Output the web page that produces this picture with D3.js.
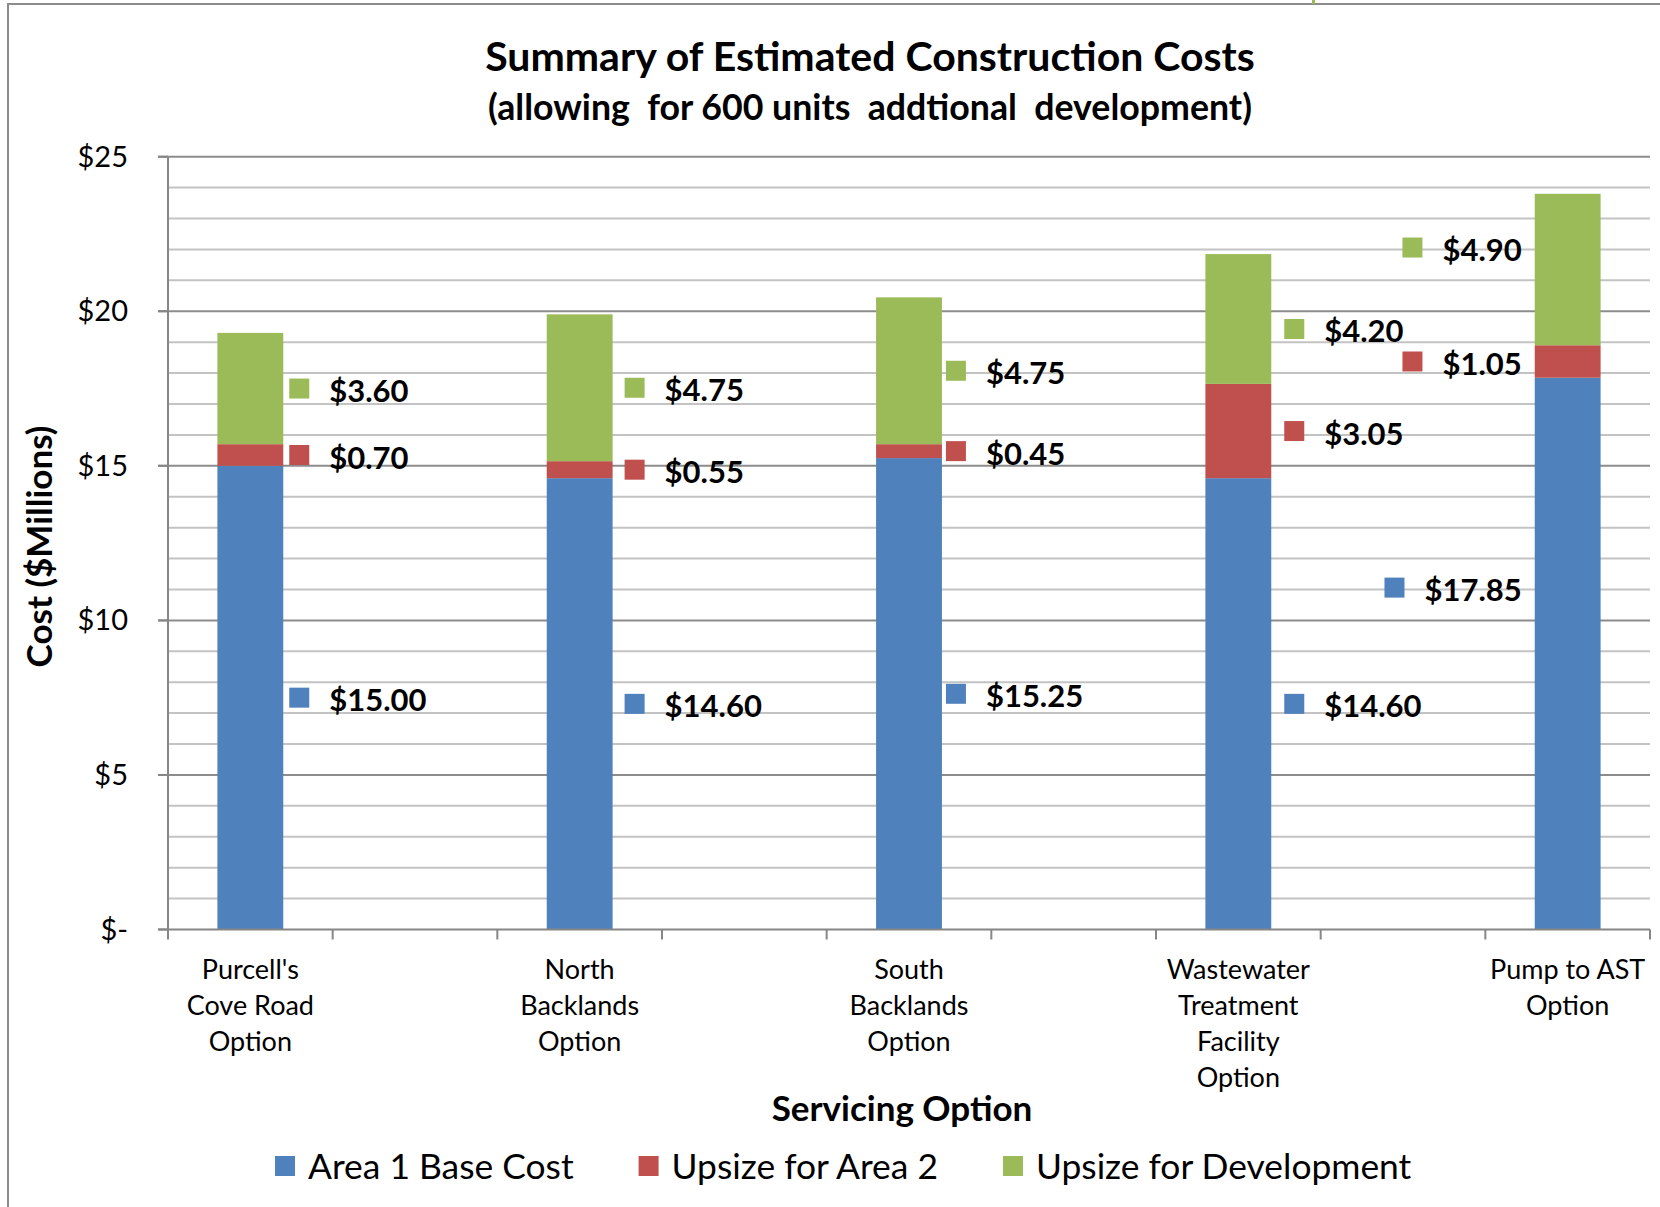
<!DOCTYPE html>
<html>
<head>
<meta charset="utf-8">
<script src="https://cdn.jsdelivr.net/npm/d3@7"></script>
<style>
  html, body { margin: 0; padding: 0; background: #ffffff; }
  svg { display: block; font-family: Lato, "Open Sans", sans-serif; }
  text { white-space: pre; }
</style>
</head>
<body>
<svg id="chart" width="1660" height="1207"></svg>
<script>
// Servicing options (category axis, one entry per line of the label)
const categories = [
  ["Purcell's", "Cove Road", "Option"],
  ["North", "Backlands", "Option"],
  ["South", "Backlands", "Option"],
  ["Wastewater", "Treatment", "Facility", "Option"],
  ["Pump to AST", "Option"]
];

// Cost components, $ millions
const seriesNames = ["Area 1 Base Cost", "Upsize for Area 2", "Upsize for Development"];
const area1Base = [15.00, 14.60, 15.25, 14.60, 17.85];
const upsizeArea2 = [0.70, 0.55, 0.45, 3.05, 1.05];
const upsizeDevelopment = [3.60, 4.75, 4.75, 4.20, 4.90];

// Value axis
const yTicks = [0, 5, 10, 15, 20, 25];
const yTickLabels = ["$-", "$5", "$10", "$15", "$20", "$25"];

const colors = ["#4F81BD", "#C0504D", "#9BBB59"];

// ---- layout ----
const W = 1660, H = 1207;
const plot = { left: 168, right: 1650, top: 156.7, bottom: 929.5 };

const svg = d3.select("#chart");

// outer chart border (runs off the right and bottom edges)
svg.append("rect")
  .attr("x", 8).attr("y", 4)
  .attr("width", W + 40).attr("height", H + 40)
  .attr("fill", "none").attr("stroke", "#8c8c8c").attr("stroke-width", 2);
svg.append("rect")
  .attr("x", 1312).attr("y", 0).attr("width", 3).attr("height", 4)
  .attr("fill", "#9BBB59");

// rows for the stack
const keys = ["base", "area2", "dev"];
const rows = categories.map((c, i) => ({
  idx: i,
  base: area1Base[i],
  area2: upsizeArea2[i],
  dev: upsizeDevelopment[i]
}));
const stacked = d3.stack().keys(keys)(rows);

// Nine slots along the category axis: options sit in every second slot
const slotCount = categories.length * 2 - 1;
const x = d3.scaleBand()
  .domain(d3.range(slotCount))
  .range([plot.left, plot.right])
  .paddingInner(0.6)
  .paddingOuter(0.3);
const slotOf = i => i * 2;
const step = x.step();

const y = d3.scaleLinear().domain([0, 25]).range([plot.bottom, plot.top]);

// gridlines: light every $1, darker every $5
const minor = d3.range(1, 25).filter(v => v % 5 !== 0);
svg.append("g").selectAll("line").data(minor).join("line")
  .attr("x1", plot.left).attr("x2", plot.right)
  .attr("y1", d => y(d)).attr("y2", d => y(d))
  .attr("stroke", "#c3c3c3").attr("stroke-width", 2);
svg.append("g").selectAll("line").data(yTicks.filter(v => v > 0)).join("line")
  .attr("x1", plot.left - 10).attr("x2", plot.right)
  .attr("y1", d => y(d)).attr("y2", d => y(d))
  .attr("stroke", "#8c8c8c").attr("stroke-width", 2);

// bars
const barG = svg.append("g");
stacked.forEach((layer, s) => {
  barG.append("g").attr("fill", colors[s])
    .selectAll("rect").data(layer).join("rect")
    .attr("x", d => x(slotOf(d.data.idx)))
    .attr("width", x.bandwidth())
    .attr("y", d => y(d[1]))
    .attr("height", d => y(d[0]) - y(d[1]));
});

// value axis line, ticks and labels
svg.append("line")
  .attr("x1", plot.left).attr("x2", plot.left)
  .attr("y1", plot.top).attr("y2", plot.bottom)
  .attr("stroke", "#868686").attr("stroke-width", 2);
svg.append("g").selectAll("line").data(yTicks).join("line")
  .attr("x1", plot.left - 10).attr("x2", plot.left)
  .attr("y1", d => y(d)).attr("y2", d => y(d))
  .attr("stroke", "#868686").attr("stroke-width", 2);
svg.append("g").selectAll("text").data(yTicks).join("text")
  .attr("x", 128).attr("y", d => y(d) + 10)
  .attr("text-anchor", "end")
  .attr("font-size", 29).attr("fill", "#000")
  .text((d, i) => yTickLabels[i]);

// category axis line, boundary ticks and labels
svg.append("line")
  .attr("x1", plot.left - 10).attr("x2", plot.right)
  .attr("y1", plot.bottom).attr("y2", plot.bottom)
  .attr("stroke", "#868686").attr("stroke-width", 2);
svg.append("g").selectAll("line").data(d3.range(slotCount + 1)).join("line")
  .attr("x1", k => plot.left + k * step).attr("x2", k => plot.left + k * step)
  .attr("y1", plot.bottom).attr("y2", plot.bottom + 10)
  .attr("stroke", "#868686").attr("stroke-width", 2);

const catG = svg.append("g").attr("font-size", 27).attr("text-anchor", "middle");
categories.forEach((lines, i) => {
  const cx = x(slotOf(i)) + x.bandwidth() / 2;
  const t = catG.append("text").attr("x", cx).attr("y", 978.5);
  lines.forEach((ln, j) => {
    t.append("tspan").attr("x", cx).attr("dy", j === 0 ? 0 : 36.3).text(ln);
  });
});

// data labels: legend key + value beside each segment
const fmt = v => "$" + v.toFixed(2);
const labelGap = [6, 12, 4, 13, 13];          // distance from bar edge
const labelNudge = { "3-2": 10, "4-2": -22, "4-0": -66 }; // moved labels (px)
const keySize = 20, keyTextGap = 20;
const labG = svg.append("g").attr("font-size", 31).attr("font-weight", "bold");
stacked.forEach((layer, s) => {
  layer.forEach(d => {
    const i = d.data.idx;
    const value = d.data[keys[s]];
    const cy = y((d[0] + d[1]) / 2) + (labelNudge[i + "-" + s] || 0);
    const g = labG.append("g");
    const txt = g.append("text").attr("y", cy + 13.5).attr("fill", "#000").text(fmt(value));
    const tw = txt.node().getComputedTextLength();
    const onRight = i < categories.length - 1;
    let kx;
    if (onRight) {
      kx = x(slotOf(i)) + x.bandwidth() + labelGap[i];
    } else {
      kx = x(slotOf(i)) - labelGap[i] - tw - keyTextGap - keySize;
    }
    g.append("rect").attr("x", kx).attr("y", cy - keySize / 2)
      .attr("width", keySize).attr("height", keySize).attr("fill", colors[s]);
    txt.attr("x", kx + keySize + keyTextGap);
  });
});

// titles
const titleG = svg.append("g").attr("text-anchor", "middle").attr("font-weight", "bold").attr("fill", "#000");
titleG.append("text").attr("x", 870).attr("y", 71).attr("font-size", 41)
  .text("Summary of Estimated Construction Costs");
titleG.append("text").attr("x", 870).attr("y", 120).attr("font-size", 35.7)
  .text("(allowing  for 600 units  addtional  development)");

svg.append("text")
  .attr("transform", "translate(52,546.5) rotate(-90)")
  .attr("text-anchor", "middle").attr("font-weight", "bold").attr("font-size", 35)
  .text("Cost ($Millions)");

svg.append("text")
  .attr("x", 902).attr("y", 1121)
  .attr("text-anchor", "middle").attr("font-weight", "bold").attr("font-size", 35)
  .text("Servicing Option");

// legend
const legG = svg.append("g").attr("font-size", 35.4);
let lx = 275;
seriesNames.forEach((name, s) => {
  legG.append("rect").attr("x", lx).attr("y", 1156)
    .attr("width", keySize).attr("height", keySize).attr("fill", colors[s]);
  const t = legG.append("text").attr("x", lx + keySize + 13).attr("y", 1178.5).text(name);
  lx += keySize + 13 + t.node().getComputedTextLength() + 65;
});
</script>
</body>
</html>
